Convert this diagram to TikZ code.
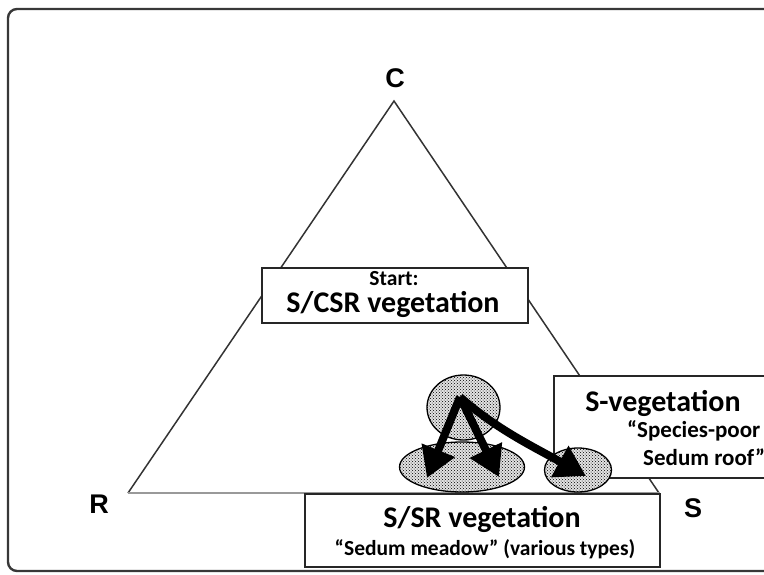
\documentclass[tikz,border=0pt]{standalone}
\usepackage{fontspec}
\setmainfont{Carlito}
\newfontfamily\arialfont{Liberation Sans}
\usetikzlibrary{arrows.meta,patterns,shapes.geometric}
\tikzset{
  frame/.style={draw=black!78, line width=2.4pt, rounded corners=9pt},
  tri/.style={draw=black!80, line width=1.5pt},
  triBase/.style={draw=black!40, line width=1.5pt},
  box/.style={draw=black!85, fill=white, line width=1.8pt, rectangle, inner sep=0pt},
  corner/.style={font=\arialfont\bfseries\fontsize{27}{29}\selectfont, inner sep=0pt},
  title/.style={font=\bfseries\fontsize{30}{32}\selectfont, inner sep=0pt},
  sub/.style={font=\bfseries\fontsize{21.5}{23}\selectfont, inner sep=0pt},
  subbig/.style={font=\bfseries\fontsize{23}{25}\selectfont, inner sep=0pt, anchor=west},
  blob/.style={ellipse, draw=black, line width=1.3pt, inner sep=0pt,
    preaction={fill=gray!22}, pattern=crosshatch dots, pattern color=black},
  bigarrow/.style={draw=black, line width=8pt, -{Triangle[length=30pt,width=34pt]}}
}
\begin{document}
\begin{tikzpicture}[x=1pt,y=-1pt]
\useasboundingbox (0,0) rectangle (764,574);
\clip (0,0) rectangle (764,574);
% frame
\draw[frame] (8,9) rectangle (790,571);
% triangle
\coordinate (apex) at (394,101);
\coordinate (rc) at (128,493);
\coordinate (sc) at (659,493);
\draw[tri] (rc) -- (apex) -- (sc);
\draw[triBase] (rc) -- (sc);
% corner labels
\node[corner] (C) at (395,78) {C};
\node[corner] (R) at (99,504) {R};
\node[corner] (S) at (693,508) {S};
% start box
\node[box, minimum width=266, minimum height=55] (start) at (395,295.5) {};
\node[sub] (startlbl) at (394,279) {Start:};
\node[title] (startttl) at (393,304) {S/CSR vegetation};
% S-vegetation box
\node[box, anchor=north west, minimum width=260, minimum height=102] (sveg) at (553,375) {};
\node[title] (svegttl) at (663,403) {S-vegetation};
\node[subbig] (svegs1) at (627,431) {“Species-poor};
\node[subbig] (svegs2) at (643,457) {Sedum roof”};
% S/SR box
\node[box, minimum width=355, minimum height=73] (ssr) at (482.5,530.5) {};
\node[title] (ssrttl) at (482,519) {S/SR vegetation};
\node[sub] (ssrsub) at (485,549) {“Sedum meadow” (various types)};
% blobs
\node[blob, minimum width=73, minimum height=65] (top) at (463.5,407.5) {};
\node[blob, minimum width=125, minimum height=50] (low) at (462,467) {};
\node[blob, minimum width=67, minimum height=44] (small) at (578,470) {};
% arrows
\coordinate (src) at (460,397);
\coordinate (t1) at (427,478);
\coordinate (t2) at (499,477);
\coordinate (t3) at (586,476);
\draw[bigarrow] (src) -- (t1);
\draw[bigarrow] (src) -- (t2);
\draw[bigarrow] (src) .. controls (495,428) and (530,445) .. (t3);
\end{tikzpicture}
\end{document}
